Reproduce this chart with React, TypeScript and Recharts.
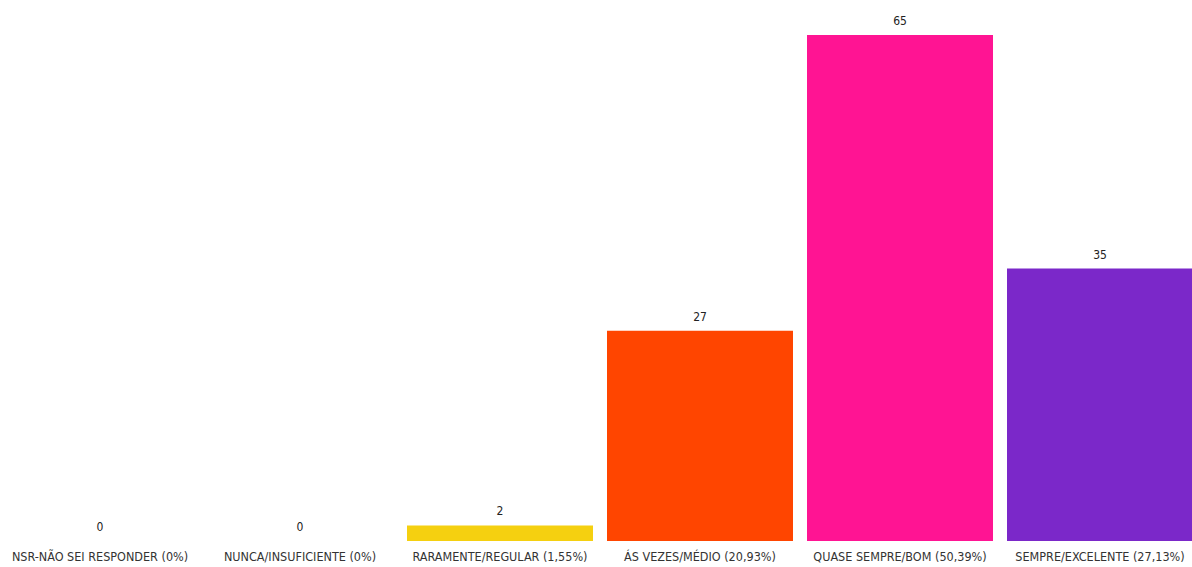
import React from 'react';
import { BarChart, Bar, XAxis, YAxis, Cell } from 'recharts';

const categories = [
  'NSR-NÃO SEI RESPONDER (0%)',
  'NUNCA/INSUFICIENTE (0%)',
  'RARAMENTE/REGULAR (1,55%)',
  'ÁS VEZES/MÉDIO (20,93%)',
  'QUASE SEMPRE/BOM (50,39%)',
  'SEMPRE/EXCELENTE (27,13%)'
];
const counts = [0, 0, 2, 27, 65, 35];
const colors = ['#1E90FF', '#2E8B57', '#F5D010', '#FF4500', '#FF1493', '#7B28C9'];

const data = categories.map((name, i) => ({ name, value: counts[i] }));

const FONT = '"DejaVu Sans Condensed", "DejaVu Sans", sans-serif';

// value label above each bar, drawn also for empty bars
const ValueLabel = (props: any) => {
  const { x, y, width, height, value } = props;
  const top = value === 0 ? y + height : y;
  return (
    <text
      x={x + width / 2}
      y={top - 10}
      textAnchor="middle"
      fontSize={12}
      fontFamily={FONT}
      fill="#222"
    >
      {value}
    </text>
  );
};

export default function App() {
  return (
    <div style={{ position: 'absolute', left: 0, top: 0, width: 1192, height: 567, overflow: 'hidden', background: '#fff' }}>
      <BarChart
        width={1200}
        height={567}
        data={data}
        margin={{ top: 35, right: 0, left: 0, bottom: 0 }}
      >
        <YAxis hide domain={[0, 65]} />
        <XAxis
          dataKey="name"
          axisLine={false}
          tickLine={false}
          interval={0}
          height={26}
          tick={{ fontSize: 12.5, fill: '#333', fontFamily: FONT }}
          tickMargin={5}
        />
        <Bar dataKey="value" barSize={186} minPointSize={1} isAnimationActive={false} label={<ValueLabel />}>
          {data.map((d, i) => (
            <Cell key={d.name} fill={d.value === 0 ? 'transparent' : colors[i]} />
          ))}
        </Bar>
      </BarChart>
    </div>
  );
}
